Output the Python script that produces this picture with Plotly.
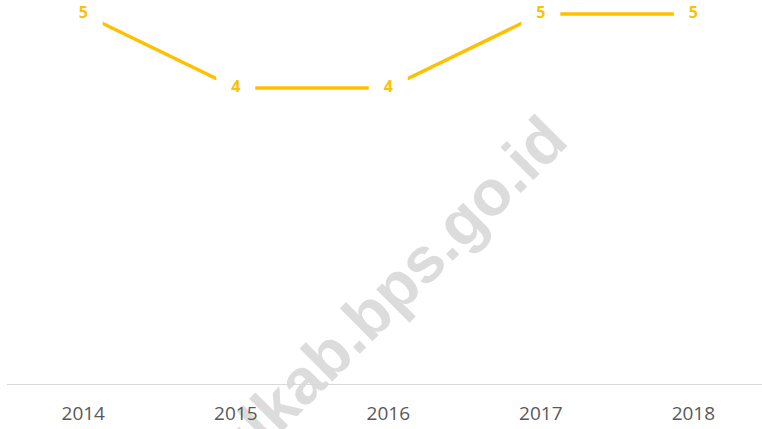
import plotly.graph_objects as go

years = ["2014", "2015", "2016", "2017", "2018"]
values = [5, 4, 4, 5, 5]
labels = ["5", "4", "4", "5", "5"]
watermark = "bantulkab.bps.go.id"

fig = go.Figure()
fig.add_trace(go.Scatter(
    x=years, y=values, mode="lines+markers+text",
    text=labels, textposition="middle center",
    textfont=dict(family="Open Sans", size=16, color="#FFC000", weight="bold"),
    line=dict(color="#FFC000", width=3.5),
    marker=dict(symbol="square", size=39, color="white", line=dict(width=0)),
    cliponaxis=False, hoverinfo="skip", showlegend=False,
))

# watermark behind the axis labels
cx, cy = 0.4371, 0.1224
fig.add_shape(
    type="rect", xref="paper", yref="paper",
    x0=cx - 0.001, x1=cx + 0.001, y0=cy - 0.001, y1=cy + 0.001,
    line=dict(width=0), fillcolor="rgba(0,0,0,0)", layer="below",
    label=dict(text=watermark, textangle=-45, textposition="middle center",
               font=dict(family="Liberation Sans", size=64, color="#DCDCDC", weight="bold")),
)

fig.update_layout(
    width=762, height=429,
    margin=dict(l=7, r=0, t=0, b=45),
    paper_bgcolor="white", plot_bgcolor="white",
    xaxis=dict(type="category", range=[-0.5, 4.45], showline=True,
               linecolor="#D9D9D9", linewidth=1, showgrid=False, zeroline=False,
               ticks="", ticklabelstandoff=12,
               tickfont=dict(family="Open Sans", size=19, color="#595959")),
    yaxis=dict(range=[0, 5.189], visible=False, showgrid=False, zeroline=False),
)

fig.write_html("out.html", config={"displayModeBar": False},
               post_script="document.body.style.margin='0';document.body.style.overflow='hidden';")
